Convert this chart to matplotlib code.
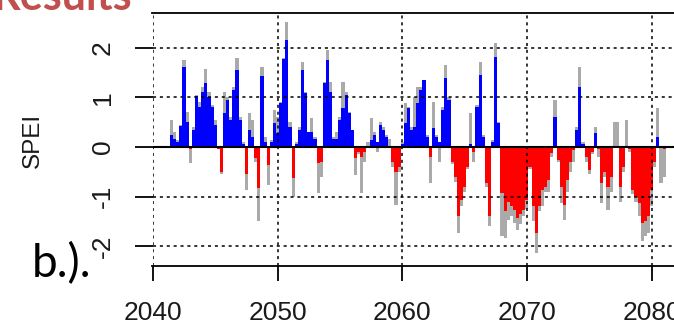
import matplotlib
matplotlib.use("Agg")
import matplotlib.pyplot as plt
import numpy as np

plt.rcParams["axes.unicode_minus"] = False

# quarterly SPEI values, starting 2041.375
start_year = 2041.375
step = 0.25
spei_fill = [
    0.24, 0.17, 0.10, 0.42, 1.62, 0.50, -0.05, 0.34, 1.03, 0.81,
    1.10, 1.28, 1.00, 0.80, 0.45, -0.05, -0.50, 0.68, 0.95, 0.54,
    1.15, 1.55, 0.54, 0.05, -0.55, 0.34, 0.20, -0.23, -0.83, 1.42,
    0.10, -0.36, 0.10, 0.48, 0.28, 0.88, 1.78, 2.15, 0.41, -0.63,
    0.05, 0.34, 1.55, 1.08, 0.30, 0.31, 0.17, -0.33, -0.30, 1.28,
    1.75, 1.10, 0.17, 0.17, 0.54, 0.78, 1.05, 0.68, 0.34, -0.23,
    -0.10, -0.20, -0.10, 0.00, 0.14, 0.24, 0.10, 0.44, 0.35, 0.20,
    0.00, -0.30, -0.50, -0.40, 0.05, 0.48, 0.78, 0.34, 0.40, 0.88,
    1.15, 1.35, 0.20, -0.20, 0.38, 0.20, 0.10, 0.74, 1.38, 0.95,
    -0.30, -0.60, -1.40, -1.07, -0.80, -0.40, 0.05, -0.10, 0.81, 1.45,
    0.20, -0.73, -1.40, 0.10, 1.82, 0.48, -0.93, -1.30, -1.10, -1.20,
    -1.27, -1.44, -1.35, -1.27, -1.07, -0.40, -1.20, -1.74, -1.20, -0.87,
    -0.80, -0.66, -0.13, 0.61, -0.26, -0.80, -1.17, -0.66, -0.30, -0.06,
    0.34, 1.21, 0.05, -0.20, -0.46, -0.10, 0.28, -0.05, -0.73, -0.50,
    -0.80, -0.60, 0.00, 0.00, -0.80, -0.40, 0.00, -0.05, -0.87, -1.00,
    -1.13, -1.54, -1.50, -1.40, -0.87, -0.30, 0.20, 0.00, -0.05,
]
spei_raw = [
    0.54, 0.30, 0.15, 0.45, 1.75, 0.70, -0.33, 0.40, 1.05, 0.90,
    1.20, 1.58, 1.10, 0.85, 0.55, 0.00, -0.55, 1.10, 1.00, 0.60,
    1.20, 1.80, 0.60, 0.10, -0.87, 0.68, 0.55, -0.30, -1.50, 1.62,
    0.20, -0.77, 0.15, 0.74, 0.61, 0.90, 1.80, 2.52, 0.50, -1.00,
    0.10, 0.40, 1.72, 1.10, 0.30, 0.58, 0.20, -0.93, -0.60, 1.30,
    1.95, 1.30, 0.20, 0.30, 0.60, 1.30, 1.10, 0.70, 0.35, -0.56,
    -0.15, -0.93, -0.30, 0.10, 0.58, 0.30, -0.10, 0.51, 0.40, 0.25,
    0.17, -0.40, -1.17, -0.50, 0.10, 0.88, 0.80, 0.40, 1.00, 1.20,
    1.20, 1.35, 0.25, -0.73, 0.91, 0.25, -0.30, 0.80, 1.65, 1.00,
    -0.35, -0.70, -1.74, -1.20, -0.90, -0.45, 0.68, -0.30, 0.85, 1.72,
    0.25, -0.80, -1.60, 0.15, 2.09, 0.50, -1.80, -1.84, -1.47, -1.40,
    -1.54, -1.67, -1.55, -1.40, -1.25, -0.45, -1.50, -2.14, -1.30, -1.20,
    -0.90, -0.90, -0.20, 0.95, -0.30, -1.13, -1.47, -0.90, -0.50, -0.30,
    0.40, 1.62, 0.10, -0.30, -0.55, -0.15, 0.41, -0.20, -1.13, -0.60,
    -1.27, -0.90, 0.51, 0.50, -1.10, -0.50, 0.54, -0.10, -0.95, -1.10,
    -1.40, -1.90, -1.80, -1.74, -1.20, -0.40, 0.78, -0.73, -0.60,
]
year_ticks = [2040, 2050, 2060, 2070, 2080]
spei_ticks = [-2, -1, 0, 1, 2]

fill = np.array(spei_fill)
raw = np.array(spei_raw)
t = start_year + step * np.arange(len(fill))

fig = plt.figure(figsize=(6.74, 3.26), dpi=100)
ax = fig.add_axes([152.5 / 674, 60 / 326, (689 - 152.5) / 674, 253 / 326])

ax.bar(t, raw, width=step, align="edge", color="#aaaaaa", linewidth=0)
colors = np.where(fill >= 0, "#0000ff", "#ff0000")
ax.bar(t, fill, width=step, align="edge", color=colors, linewidth=0)
ax.axhline(0, color="black", linewidth=1.5, zorder=3)

ax.set_xlim(2039.97, 2083)
ax.set_ylim(-2.40, 2.70)
ax.set_xticks(year_ticks)
ax.set_yticks(spei_ticks)
ax.grid(True, color="black", linestyle=(0, (2, 2.5)), linewidth=1.1)
ax.set_axisbelow(False)

for side in ["left", "right"]:
    ax.spines[side].set_visible(False)
ax.spines["top"].set_linewidth(1.3)
ax.spines["bottom"].set_linewidth(1.3)

tick_color = "#1a1a1a"
ax.tick_params(axis="x", length=11, width=1.3, pad=14, labelsize=19,
               labelcolor=tick_color)
ax.tick_params(axis="y", length=13, width=1.3, pad=14, labelsize=19,
               labelcolor=tick_color)
for lab in ax.get_yticklabels():
    lab.set_rotation(90)
    lab.set_verticalalignment("center")
for lab in ax.get_xticklabels() + ax.get_yticklabels():
    lab.set_family("Liberation Sans")

fig.text(33 / 674, 1 - 140 / 326, "SPEI", rotation=90, fontsize=17.5,
         color=tick_color, family="Liberation Sans", ha="center", va="center")
fig.text(32 / 674, 1 - 277 / 326, "b.).", fontsize=33, color="black",
         family="Lato", ha="left", va="baseline")
fig.text(-8 / 674, 1 - 10 / 326, "Results", fontsize=31, color="#c0504d",
         family="Lato", weight="bold", ha="left", va="baseline")

fig.savefig("out.png", dpi=100)
